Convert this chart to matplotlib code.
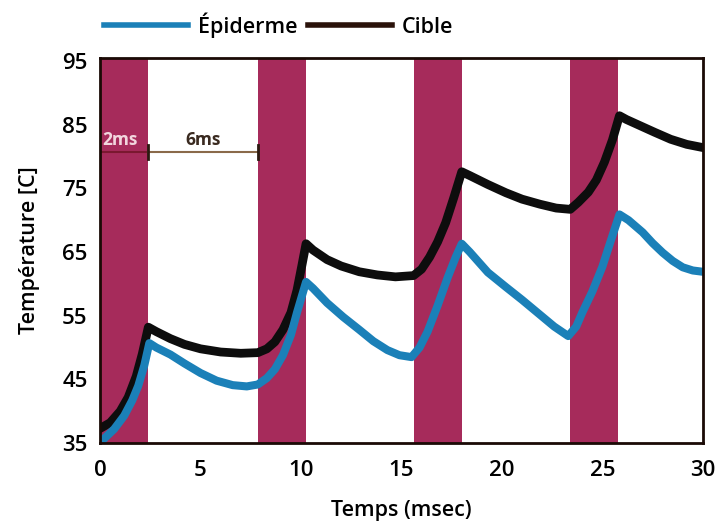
import numpy as np
import matplotlib.pyplot as plt
from matplotlib.lines import Line2D

plt.rcParams['font.family'] = ['Open Sans', 'DejaVu Sans']

# laser pulses (start, end) in ms
pulse_start = [0.0, 7.85, 15.6, 23.4]
pulse_end = [2.4, 10.25, 18.0, 25.8]

# Cible (target) temperature
t_cible = [0.0, 0.5, 1.0, 1.4, 1.8, 2.1, 2.4,
           2.8, 3.5, 4.2, 5.0, 6.0, 7.0, 7.85,
           8.3, 8.7, 9.1, 9.5, 9.8, 10.05, 10.25,
           10.6, 11.3, 12.0, 12.9, 13.8, 14.7, 15.6,
           16.0, 16.4, 16.8, 17.2, 17.6, 18.0,
           18.4, 19.3, 20.2, 21.0, 21.9, 22.7, 23.4,
           23.8, 24.3, 24.7, 25.1, 25.5, 25.85,
           26.2, 26.9, 27.6, 28.4, 29.2, 30.0]
T_cible = [37.3, 38.2, 40.0, 42.2, 45.5, 49.0, 53.2,
           52.5, 51.4, 50.5, 49.8, 49.3, 49.1, 49.2,
           49.8, 50.9, 52.8, 55.5, 59.0, 63.0, 66.3,
           65.3, 63.8, 62.8, 61.9, 61.4, 61.1, 61.3,
           62.3, 64.2, 66.6, 69.6, 73.5, 77.6,
           77.0, 75.6, 74.3, 73.3, 72.5, 71.9, 71.7,
           72.8, 74.4, 76.3, 79.1, 82.6, 86.4,
           85.8, 84.8, 83.8, 82.7, 81.9, 81.4]

# Epiderme temperature
t_epi = [0.1, 0.7, 1.2, 1.6, 1.9, 2.2, 2.45,
         2.8, 3.5, 4.2, 5.0, 5.8, 6.6, 7.3, 7.85,
         8.3, 8.7, 9.1, 9.5, 9.8, 10.25,
         10.6, 11.3, 12.1, 12.9, 13.6, 14.3, 14.9, 15.5,
         15.9, 16.3, 16.8, 17.3, 17.7, 18.0,
         18.4, 19.3, 20.2, 21.0, 21.8, 22.6, 23.3,
         23.7, 24.0, 24.5, 25.0, 25.4, 25.85,
         26.3, 27.0, 27.5, 28.0, 28.5, 29.0, 29.5, 30.0]
T_epi = [35.4, 37.2, 39.3, 41.7, 44.0, 47.2, 50.7,
         50.0, 48.9, 47.5, 46.0, 44.8, 44.1, 43.9, 44.2,
         45.2, 46.6, 48.8, 52.0, 55.5, 60.3,
         59.3, 57.0, 54.8, 52.8, 51.0, 49.6, 48.8, 48.5,
         50.0, 52.5, 56.6, 61.0, 64.2, 66.3,
         65.0, 61.8, 59.5, 57.5, 55.4, 53.3, 51.8,
         53.3, 55.5, 58.8, 62.7, 66.6, 70.9,
         70.0, 68.1, 66.4, 64.9, 63.6, 62.6, 62.1, 61.9]

yticks = [35, 45, 55, 65, 75, 85, 95]
xticks = [0, 5, 10, 15, 20, 25, 30]

band_color = '#a62b5b'
blue = '#1b80b8'

fig = plt.figure(figsize=(7.15, 5.25), dpi=100)
ax = fig.add_axes([0.14, 0.156, 0.843, 0.734])

for s, e in zip(pulse_start, pulse_end):
    ax.axvspan(s, e, color=band_color, lw=0, zorder=1)

ax.plot(t_cible, T_cible, color='#0d0d0d', lw=6.3, zorder=3)
ax.plot(t_epi, T_epi, color=blue, lw=5.8, zorder=4)

# pulse duration annotations
y_ann = 80.7
ax.plot([0, pulse_end[0]], [y_ann, y_ann], color='#7a1830', lw=1.5, zorder=2)
ax.plot([pulse_end[0], pulse_start[1]], [y_ann, y_ann], color='#8a6a4a', lw=1.5, zorder=2)
for xv in [pulse_end[0], pulse_start[1]]:
    ax.plot([xv, xv], [y_ann - 1.1, y_ann + 1.1], color='#2a1a10', lw=2, zorder=2)
ax.text(0.1, y_ann + 0.4, '2ms', color='#f2d6de', fontsize=12.5, fontweight='bold',
        ha='left', va='bottom', zorder=5)
ax.text((pulse_end[0] + pulse_start[1]) / 2, y_ann + 0.4, '6ms', color='#3a2a20',
        fontsize=12.5, fontweight='bold', ha='center', va='bottom', zorder=5)

ax.set_xlim(0, 30)
ax.set_ylim(35, 95.5)
ax.set_xticks(xticks)
ax.set_yticks(yticks)
ax.tick_params(length=0, labelsize=16)
ax.tick_params(axis='x', pad=12)
ax.tick_params(axis='y', pad=9)
for lab in ax.get_xticklabels() + ax.get_yticklabels():
    lab.set_fontweight('semibold')
for sp in ax.spines.values():
    sp.set_linewidth(2)
    sp.set_color('#1a0a05')
    sp.set_zorder(6)

ax.set_xlabel('Temps (msec)', fontsize=15.5, fontweight='semibold', labelpad=14)
ax.set_ylabel('Température [C]', fontsize=15.5, fontweight='semibold', labelpad=16)

handles = [Line2D([], [], color=blue, lw=4), Line2D([], [], color='#2a120a', lw=4)]
fig.legend(handles, ['Épiderme', 'Cible'], loc='center', bbox_to_anchor=(0.39, 0.952),
           ncol=2, frameon=False, handlelength=3.9, handletextpad=0.45,
           columnspacing=0.5, prop={'size': 15.5, 'weight': 'semibold'})

fig.savefig('out.png', dpi=100)
